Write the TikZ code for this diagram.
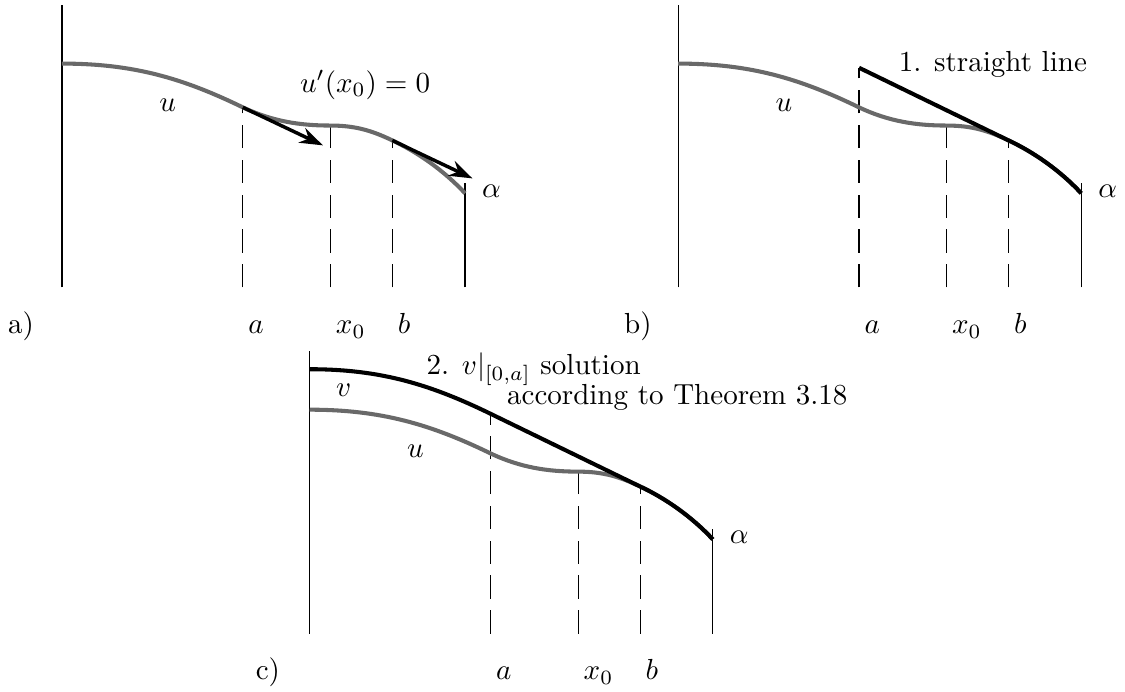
\documentclass[tikz,border=0pt]{standalone}
\usepackage{amsmath,amssymb}
\usepackage{tikz}
\usetikzlibrary{arrows.meta}
\usepackage{xcolor}
\definecolor{ugray}{RGB}{105,105,105}

\begin{document}
\begin{tikzpicture}[x=1cm,y=1cm,
axis/.style={line width=0.4pt},
guide/.style={line width=0.4pt,dash pattern=on 8pt off 4pt},
ucurve/.style={ugray,line width=1.4pt},
vcurve/.style={black,line width=1.4pt},
tangent/.style={black,line width=1.2pt,-{Stealth[length=8pt,width=5.5pt]}},
lab/.style={inner sep=0pt,anchor=base west}]
\useasboundingbox (-0.75,-4.89) rectangle (12.87,3.48);
\foreach \p/\dx/\dy/\ya in {a/0/0/2.18,b/7.46/0/2.66,c/3.0/-4.19/2.66}{
\begin{scope}[shift={(\dx,\dy)}]
\coordinate (o\p) at (0,0);
\coordinate (u0\p) at (0,2.71);
\coordinate (ua\p) at (2.19,2.18);
\coordinate (ux\p) at (3.25,1.96);
\coordinate (ub\p) at (4.00,1.78);
\coordinate (ue\p) at (4.88,1.14);
\draw[axis] (o\p) -- (0,3.42);
\draw[axis] (4.88,0) -- (4.88,1.26);
\draw[guide] (2.19,0) -- (2.19,\ya);
\draw[guide] (3.25,0) -- (ux\p);
\draw[guide] (4.00,0) -- (ub\p);
\draw[ucurve] (u0\p) .. controls (0.87,2.71) and (1.47,2.53) .. (ua\p)
  .. controls (2.55,2.01) and (2.88,1.96) .. (ux\p)
  .. controls (3.55,1.96) and (3.75,1.90) .. (ub\p)
  .. controls (4.30,1.64) and (4.62,1.42) .. (ue\p);
\node (ulab\p) at (1.28,2.21){$u$};
\node[lab] (alpha\p) at (5.08,1.09){$\alpha$};
\node[lab] (alab\p) at (2.25,-0.56){$a$};
\node[lab] (xlab\p) at (3.31,-0.56){$x_0$};
\node[lab] (blab\p) at (4.06,-0.56){$b$};
\node[lab] (panel\p) at (-0.66,-0.56){\p)};
\end{scope}
}
\coordinate (ta) at (3.16,1.72);
\coordinate (tb) at (4.97,1.32);
\draw[tangent] (uaa) -- (ta);
\draw[tangent] (uba) -- (tb);
\node[anchor=base] (slope) at (3.67,2.365){$u'(x_0)=0$};
\begin{scope}[shift={(7.46,0)}]
\coordinate (vab) at (2.19,2.66);
\draw[vcurve] (vab) -- (ubb) .. controls (4.30,1.64) and (4.62,1.42) .. (ueb);
\node[anchor=base] (step1) at (3.81,2.61){1. straight line};
\end{scope}
\begin{scope}[shift={(3.0,-4.19)}]
\coordinate (v0c) at (0,3.20);
\coordinate (vac) at (2.19,2.66);
\draw[vcurve] (v0c) .. controls (0.87,3.20) and (1.47,3.01) .. (vac) -- (ubc)
  .. controls (4.30,1.64) and (4.62,1.42) .. (uec);
\node (vlab) at (0.41,2.95){$v$};
\node[anchor=base] (step2) at (2.71,3.13){2. $v|_{[0,a]}$ solution};
\node[anchor=base] (step2b) at (4.45,2.77){according to Theorem 3.18};
\end{scope}
\end{tikzpicture}
\end{document}
